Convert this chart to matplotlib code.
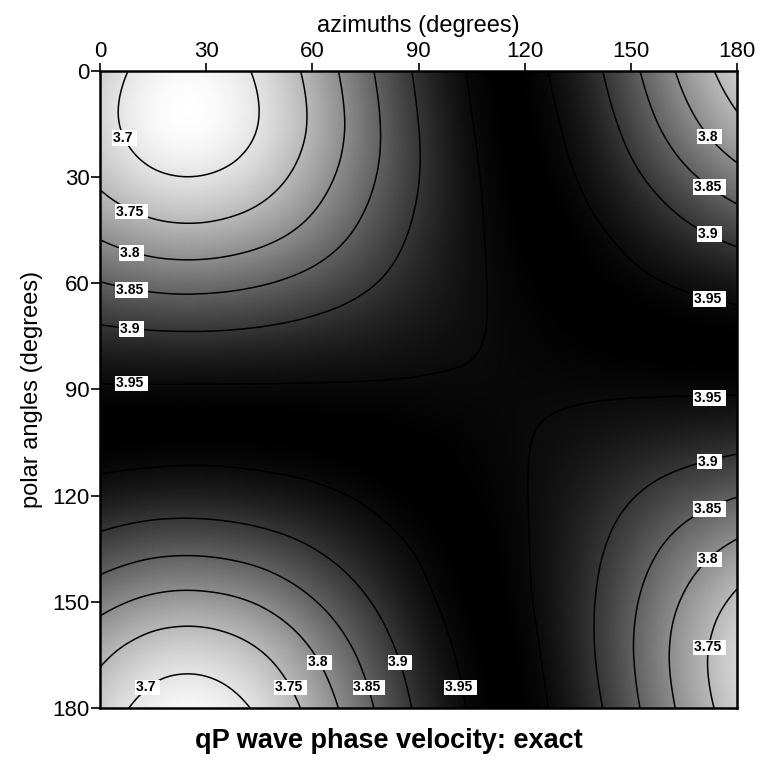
import numpy as np
import matplotlib
matplotlib.use("Agg")
import matplotlib.pyplot as plt
import matplotlib.tri as mtri

# ---- data ----
azimuths = [0, 15, 30, 45, 60, 75, 90, 105, 120, 135, 150, 165, 180]
polar_angles = [0, 15, 30, 45, 60, 75, 90, 105, 120, 135, 150, 165, 180]
# qP phase velocity; rows = polar angle, columns = azimuth
velocity = [
    [3.724, 3.685, 3.679, 3.707, 3.765, 3.838, 3.908, 3.953, 3.960, 3.927, 3.863, 3.788, 3.724],
    [3.717, 3.678, 3.673, 3.701, 3.757, 3.829, 3.900, 3.949, 3.962, 3.938, 3.884, 3.818, 3.760],
    [3.740, 3.707, 3.702, 3.726, 3.775, 3.837, 3.899, 3.945, 3.963, 3.949, 3.911, 3.862, 3.817],
    [3.789, 3.764, 3.760, 3.778, 3.814, 3.861, 3.908, 3.944, 3.962, 3.959, 3.938, 3.909, 3.881],
    [3.852, 3.837, 3.835, 3.846, 3.867, 3.894, 3.922, 3.945, 3.959, 3.963, 3.957, 3.946, 3.935],
    [3.912, 3.907, 3.906, 3.910, 3.918, 3.928, 3.939, 3.948, 3.956, 3.961, 3.963, 3.963, 3.962],
    [3.953, 3.953, 3.953, 3.953, 3.953, 3.953, 3.953, 3.953, 3.953, 3.953, 3.953, 3.953, 3.953],
    [3.962, 3.961, 3.960, 3.961, 3.962, 3.963, 3.962, 3.958, 3.951, 3.942, 3.931, 3.921, 3.912],
    [3.935, 3.927, 3.926, 3.932, 3.942, 3.954, 3.962, 3.961, 3.951, 3.930, 3.903, 3.875, 3.852],
    [3.881, 3.863, 3.861, 3.874, 3.899, 3.929, 3.953, 3.963, 3.952, 3.921, 3.877, 3.829, 3.789],
    [3.817, 3.789, 3.785, 3.805, 3.846, 3.895, 3.939, 3.962, 3.954, 3.917, 3.859, 3.795, 3.740],
    [3.760, 3.724, 3.719, 3.745, 3.797, 3.862, 3.922, 3.958, 3.958, 3.919, 3.854, 3.780, 3.717],
    [3.724, 3.685, 3.679, 3.707, 3.765, 3.838, 3.908, 3.953, 3.960, 3.927, 3.863, 3.788, 3.724],
]
contour_levels = [3.7, 3.75, 3.8, 3.85, 3.9, 3.95]
tick_values = [0, 30, 60, 90, 120, 150, 180]

# contour label placement (level, left edge azimuth, polar angle)
label_level = [3.7, 3.75, 3.8, 3.85, 3.9, 3.95,
               3.8, 3.85, 3.9, 3.95,
               3.95, 3.9, 3.85, 3.8, 3.75,
               3.7, 3.75, 3.8, 3.85, 3.9, 3.95]
label_az = [3.6, 4.5, 5.65, 4.5, 5.65, 4.5,
            169.0, 167.9, 169.0, 167.9,
            167.9, 169.0, 167.9, 169.0, 167.9,
            10.2, 49.5, 58.7, 71.6, 81.5, 97.5]
label_po = [19.0, 39.8, 51.5, 61.9, 72.9, 88.3,
            18.6, 32.8, 46.1, 64.5,
            92.4, 110.4, 123.8, 138.0, 162.9,
            174.2, 174.2, 167.1, 174.2, 167.1, 174.2]

# ---- figure ----
plt.rcParams["font.family"] = ["Liberation Sans", "DejaVu Sans"]
fig = plt.figure(figsize=(7.61, 7.65), dpi=100)
ax = fig.add_axes([100 / 761, 1 - 708 / 765, 637 / 761, 637.3 / 765])

az = np.asarray(azimuths, float)
po = np.asarray(polar_angles, float)
Z = np.asarray(velocity, float)
A, P = np.meshgrid(az, po)
ny, nx = Z.shape
tris = []
for j in range(ny - 1):
    for i in range(nx - 1):
        k = j * nx + i
        tris.append([k, k + 1, k + nx + 1])
        tris.append([k, k + nx + 1, k + nx])
tri = mtri.Triangulation(A.ravel(), P.ravel(), np.array(tris))
interp = mtri.CubicTriInterpolator(tri, Z.ravel(), kind="min_E")
refiner = mtri.UniformTriRefiner(tri)
tri_f, z_f = refiner.refine_field(Z.ravel(), triinterpolator=interp, subdiv=5)

ax.tripcolor(tri_f, z_f, shading="gouraud", cmap="gray_r",
             vmin=3.6685, vmax=3.9628, rasterized=True)
ax.tricontour(tri_f, z_f, levels=contour_levels, colors="black", linewidths=1.1)

for lv, x, y in zip(label_level, label_az, label_po):
    ax.text(x, y, f"{lv:g}\u00a0", ha="left", va="center", fontsize=10,
            fontweight="bold", color="black", zorder=5,
            bbox=dict(boxstyle="square,pad=0.05", facecolor="white",
                      edgecolor="none"))

ax.set_xlim(0, 180)
ax.set_ylim(180, 0)
ax.set_xticks(tick_values)
ax.set_yticks(tick_values)
ax.xaxis.tick_top()
ax.xaxis.set_label_position("top")
ax.tick_params(axis="x", which="both", top=True, bottom=False, direction="out",
               length=6, width=1.2, labelsize=16, pad=0)
ax.tick_params(axis="y", which="both", left=True, right=False, direction="out",
               length=6.3, width=1.2, labelsize=16, pad=1)
for sp in ax.spines.values():
    sp.set_linewidth(1.8)
ax.set_xlabel("azimuths (degrees)", fontsize=17, labelpad=7)
ax.set_ylabel("polar angles (degrees)", fontsize=17, labelpad=7)

fig.text(389 / 761, 1 - 748 / 765, "qP wave phase velocity: exact",
         ha="center", va="baseline", fontsize=19.5, fontweight="bold")

fig.savefig("out.png", dpi=100)
